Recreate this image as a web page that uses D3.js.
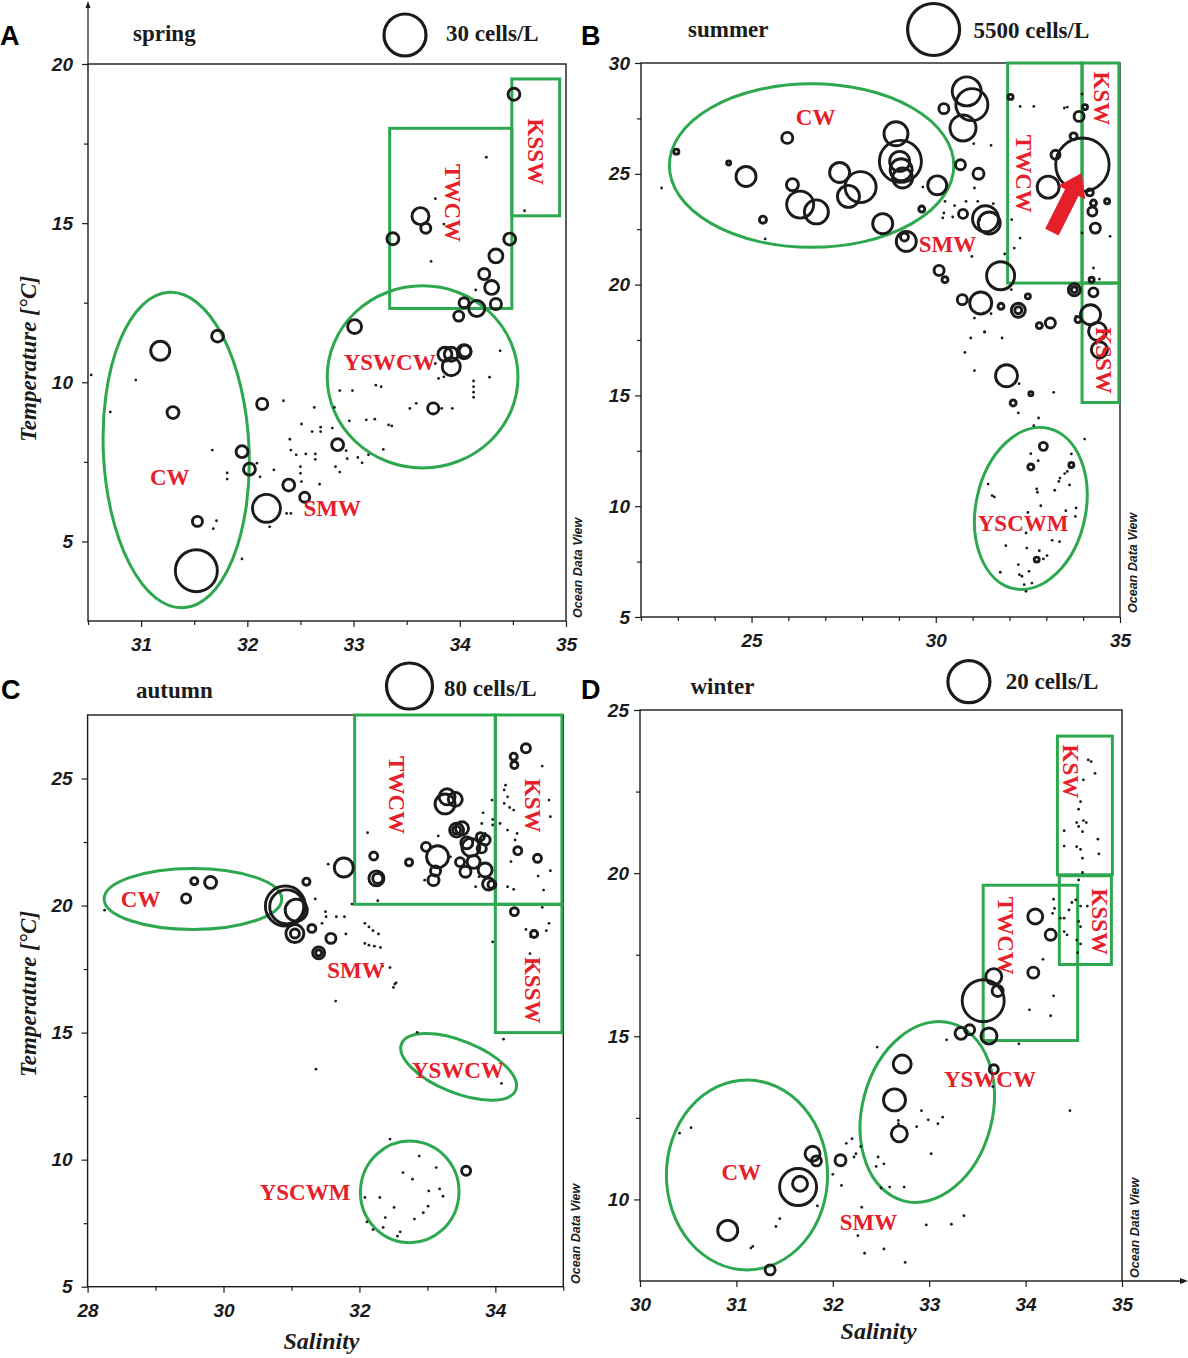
<!DOCTYPE html>
<html><head><meta charset="utf-8">
<script src="https://cdn.jsdelivr.net/npm/d3@7"></script>
<style>
body{margin:0;background:#fff;}
svg{display:block;}
</style></head>
<body>
<svg id="chart" width="1188" height="1358"></svg>
<script>
// ---------------- DATA ----------------
const seasons = ["spring", "summer", "autumn", "winter"];
const panelLetters = ["A", "B", "C", "D"];
const legendValues = [30, 5500, 80, 20];           // cells/L shown by legend circle
const xAxisTitle = "Salinity";
const yAxisTitle = "Temperature [°C]";

// tick values
const springXTicks = [31, 32, 33, 34, 35], springXMinor = [30.5, 31.5, 32.5, 33.5, 34.5];
const springYTicks = [5, 10, 15, 20], springYMinor = [7.5, 12.5, 17.5];
const summerXTicks = [25, 30, 35], summerXMinor = [22, 23, 24, 26, 27, 28, 29, 31, 32, 33, 34];
const summerYTicks = [5, 10, 15, 20, 25, 30], summerYMinor = [7.5, 12.5, 17.5, 22.5, 27.5];
const autumnXTicks = [28, 30, 32, 34], autumnXMinor = [29, 31, 33, 35];
const autumnYTicks = [5, 10, 15, 20, 25], autumnYMinor = [7.5, 12.5, 17.5, 22.5];
const winterXTicks = [30, 31, 32, 33, 34, 35], winterXMinor = [];
const winterYTicks = [10, 15, 20, 25], winterYMinor = [12.5, 17.5, 22.5];

// samples with abundance: [salinity, temperature, cells/L]
const springCircles = [[34.51,19.05,2.4],[33.63,15.22,4.9],[33.68,14.84,1.7],[33.37,14.51,2.4],[34.47,14.50,2.4],[34.34,13.97,3.3],[34.23,13.40,2.1],[34.30,12.98,3.3],[34.34,12.46,2.1],[34.04,12.50,1.7],[34.16,12.32,4.4],[33.99,12.08,1.7],[33.01,11.75,3.3],[31.18,10.99,6.1],[31.72,11.45,2.4],[31.30,9.05,2.4],[32.14,9.32,2.1],[31.95,7.82,2.4],[32.02,7.27,2.4],[32.39,6.77,2.4],[32.54,6.39,1.7],[32.18,6.04,13.3],[31.53,5.63,1.7],[31.52,4.08,30],[32.85,8.04,2.4],[33.86,10.88,3.3],[33.92,10.88,3.3],[33.92,10.49,5.5],[34.04,10.96,3.3],[34.05,10.98,2.4],[33.75,9.18,2.1]];
// samples without cells: [salinity, temperature]
const springDots = [[34.25,17.07],[33.77,15.77],[34.61,15.39],[33.73,13.80],[34.15,12.90],[33.85,14.97],[30.53,10.23],[30.95,10.07],[30.71,9.07],[31.67,7.87],[31.81,7.15],[31.81,6.96],[31.71,5.65],[31.68,5.40],[31.95,4.45],[32.21,5.46],[32.41,5.88],[32.37,5.88],[32.34,9.42],[32.25,7.25],[32.09,7.46],[32.12,7.03],[32.40,8.21],[32.41,7.87],[32.46,7.72],[32.51,8.69],[32.55,7.75],[32.50,7.35],[32.50,7.14],[32.51,6.88],[32.61,8.45],[32.63,9.21],[32.64,7.75],[32.64,7.58],[32.69,8.59],[32.69,8.45],[32.68,6.80],[32.80,8.56],[32.82,9.21],[32.83,7.35],[32.87,7.18],[32.87,9.74],[32.93,7.85],[32.94,7.60],[32.96,8.79],[32.99,9.74],[33.04,7.64],[33.08,7.47],[33.12,8.82],[33.14,7.72],[33.20,8.84],[33.21,9.91],[33.26,9.86],[33.28,7.89],[33.33,8.66],[33.36,8.63],[33.53,9.18],[33.59,9.34],[33.83,9.18],[33.93,9.18],[33.80,10.12],[33.85,10.17],[34.13,10.04],[34.13,9.86],[34.13,9.69],[34.13,9.53],[34.28,10.16],[34.38,10.99],[33.77,10.59]];

const summerCircles = [[30.84,28.72,1711],[30.98,28.12,2083],[30.74,27.07,1375],[30.22,27.94,203],[28.92,26.81,1172],[29.04,25.56,3588],[29.02,25.56,814],[29.06,25.18,984],[29.10,24.81,814],[25.97,26.62,246],[24.85,24.88,814],[26.11,24.51,293],[26.32,23.61,1483],[26.76,23.28,1172],[27.39,25.06,814],[27.63,23.98,984],[27.96,24.40,1955],[28.56,22.75,814],[30.04,24.48,734],[30.67,25.41,203],[31.16,25.00,246],[25.31,22.93,100],[29.20,21.95,814],[29.15,22.15,130],[30.74,23.19,165],[31.35,22.97,1375],[31.45,22.78,984],[33.05,24.40,984],[33.25,25.86,165],[33.98,25.41,5800],[31.76,20.40,1595],[30.09,20.64,203],[30.72,19.32,203],[31.22,19.17,984],[32.24,18.84,399],[32.24,18.84,100],[33.11,18.27,203],[32.81,18.15,73],[33.89,27.59,203],[33.74,26.69,100],[34.25,23.30,165],[34.33,22.55,203],[34.18,24.16,100],[33.76,19.77,293],[33.76,19.77,73],[34.28,19.65,165],[34.20,18.64,814],[34.39,17.89,659],[34.44,17.06,521],[31.92,15.89,984],[32.92,12.70,130],[34.28,23.68,73],[22.96,26.00,51],[24.38,25.49,33],[29.62,23.41,73],[32.03,28.47,51],[34.05,28.01,51],[34.65,23.76,51],[32.50,19.47,51],[31.77,19.02,73],[34.23,20.22,51],[33.86,18.42,73],[32.58,15.08,33],[33.68,11.86,51],[32.74,7.59,51],[32.58,11.77,73],[32.10,14.66,73],[30.25,20.22,73]];
const summerDots = [[22.56,24.36],[25.37,22.06],[29.65,24.40],[32.29,28.04],[32.66,28.04],[33.57,28.01],[33.97,28.60],[31.03,26.36],[31.50,26.28],[34.73,22.18],[30.25,23.76],[30.51,23.56],[30.82,23.76],[30.22,23.23],[30.46,23.05],[30.19,23.01],[30.98,21.27],[31.05,24.36],[31.14,23.76],[31.56,23.65],[31.19,22.93],[31.30,22.40],[32.06,22.93],[32.29,22.10],[32.13,21.65],[31.87,21.38],[32.05,19.77],[31.30,18.72],[31.50,18.69],[31.32,17.86],[33.97,22.33],[34.44,20.25],[34.28,20.75],[33.49,27.97],[31.05,18.49],[31.33,17.86],[30.95,17.59],[31.80,17.59],[30.79,16.94],[31.05,16.12],[32.26,15.53],[33.20,15.14],[32.24,14.21],[32.79,13.98],[32.66,13.63],[34.04,13.03],[32.58,12.37],[32.78,12.05],[33.68,12.36],[31.42,11.00],[31.53,10.48],[31.59,10.42],[32.74,10.78],[32.76,10.63],[33.23,10.72],[33.63,10.96],[33.37,11.27],[33.50,11.47],[33.57,11.57],[33.34,11.12],[33.81,9.92],[33.79,9.54],[32.50,9.72],[32.45,8.79],[32.85,10.02],[33.53,9.80],[31.90,8.22],[32.47,8.11],[32.81,7.99],[32.92,7.62],[33.02,7.77],[33.16,8.46],[33.36,8.40],[32.24,7.36],[31.75,7.02],[32.27,6.91],[32.34,6.84],[32.53,7.06],[32.61,6.53],[32.40,6.46],[32.45,6.16],[33.81,18.57]];

const autumnCircles = [[34.45,26.19,3.1],[34.27,25.86,1.9],[34.28,25.53,1.9],[33.26,24.00,15.1],[33.41,24.18,7.4],[33.29,24.28,9.7],[33.43,22.97,7.4],[33.43,22.97,2.4],[33.51,23.04,6.4],[33.15,21.92,18.3],[32.98,22.31,3.1],[33.12,21.36,3.8],[33.09,21.00,4.6],[32.73,21.70,1.9],[33.64,22.29,12.2],[33.58,22.47,5.4],[33.78,22.71,2.4],[33.85,22.58,3.8],[33.80,22.25,3.1],[33.68,21.72,6.4],[33.85,21.40,7.4],[33.56,21.33,4.6],[33.48,21.71,3.1],[33.90,20.85,5.4],[33.95,20.83,2.4],[32.21,21.95,2.4],[32.25,21.07,8.5],[32.27,21.07,3.8],[31.77,21.50,13.6],[31.22,20.94,1.9],[30.91,19.98,60.5],[30.93,19.95,43.7],[31.07,19.82,18.3],[31.05,18.90,12.2],[31.05,18.90,3.1],[31.30,19.10,2.4],[31.58,18.71,3.8],[31.40,18.14,5.4],[31.40,18.14,1.4],[29.57,20.96,1.9],[29.81,20.91,5.4],[29.45,20.28,3.1],[34.62,21.86,2.4],[34.33,22.16,2.4],[34.28,19.76,2.4],[34.57,18.88,1.9],[33.57,9.56,3.1]];
const autumnDots = [[28.25,19.82],[31.54,21.63],[32.12,22.87],[32.96,21.00],[33.82,23.65],[33.80,23.23],[33.95,24.15],[33.96,23.17],[34.15,24.74],[34.13,24.55],[34.18,24.28],[34.13,24.02],[34.21,23.86],[34.27,23.76],[34.07,23.23],[34.18,22.97],[34.32,22.84],[34.29,22.05],[34.23,21.73],[34.29,22.58],[34.18,20.74],[34.27,20.64],[34.63,21.16],[34.69,25.49],[34.79,24.15],[34.81,23.50],[34.81,21.37],[34.71,20.61],[34.69,19.93],[34.79,19.30],[34.75,19.01],[34.45,19.06],[34.52,18.77],[34.51,18.11],[34.55,17.59],[33.96,18.57],[33.34,21.92],[33.16,22.74],[31.89,20.06],[32.27,20.19],[31.35,20.26],[31.50,19.76],[31.51,19.56],[31.45,19.30],[31.66,19.56],[31.78,19.56],[31.80,18.88],[32.08,19.30],[32.14,19.16],[32.20,19.01],[32.28,18.88],[32.08,18.51],[32.14,18.44],[32.22,18.40],[32.31,18.35],[32.34,17.62],[32.45,17.56],[32.54,16.96],[33.96,23.39],[33.85,22.84],[33.76,21.13],[33.71,20.74],[32.52,16.91],[32.50,16.78],[31.65,16.24],[32.85,15.01],[31.36,13.56],[34.12,14.74],[34.09,13.00],[32.45,10.81],[32.88,10.14],[33.13,9.69],[32.64,9.49],[32.78,9.23],[33.02,8.77],[33.18,8.85],[33.23,8.56],[32.08,8.51],[32.30,8.51],[32.51,8.12],[33.01,8.17],[32.94,7.91],[32.38,7.72],[32.81,7.66],[32.11,7.55],[32.20,7.25],[32.35,7.33],[32.60,7.16],[32.56,6.99]];

const winterCircles = [[34.10,18.67,2.55],[34.26,18.11,1.37],[34.08,16.95,1.37],[33.67,16.83,2.90],[33.71,16.39,1.37],[33.56,16.09,20],[33.62,15.01,2.90],[33.33,15.09,1.63],[33.42,15.20,1.13],[33.67,13.99,0.92],[32.72,14.15,3.67],[32.64,13.05,5.49],[32.69,12.01,2.90],[31.79,11.40,2.55],[31.83,11.18,1.13],[32.08,11.20,1.37],[31.64,10.38,15.5],[31.66,10.48,2.55],[30.91,9.05,4.54],[31.35,7.84,1.13]];
const winterDots = [[34.65,23.47],[34.68,23.42],[34.72,23.06],[34.60,22.86],[34.57,22.19],[34.55,21.96],[34.60,21.61],[34.53,21.55],[34.63,21.55],[34.55,21.43],[34.59,21.27],[34.40,21.30],[34.40,20.83],[34.53,20.81],[34.57,20.73],[34.59,20.46],[34.75,21.04],[34.76,20.59],[34.59,20.02],[34.55,19.79],[34.29,19.20],[34.52,19.18],[34.48,19.10],[34.57,18.99],[34.64,18.99],[34.30,18.92],[34.28,18.77],[34.45,18.87],[34.40,18.62],[34.36,18.62],[34.55,18.52],[34.57,18.36],[34.40,18.21],[34.43,18.11],[34.53,17.95],[34.57,17.83],[34.54,17.56],[34.18,17.36],[34.29,16.24],[34.04,15.81],[34.26,15.63],[33.93,14.77],[33.18,14.89],[32.46,14.67],[33.66,13.46],[34.46,12.72],[32.92,12.72],[32.99,12.44],[33.09,12.32],[33.14,12.52],[32.87,12.23],[33.02,11.40],[32.20,11.86],[32.14,11.72],[32.29,11.62],[32.24,11.40],[32.22,11.30],[32.47,11.30],[32.45,11.01],[32.53,11.09],[32.00,10.77],[32.09,10.43],[31.84,9.80],[32.59,10.38],[32.50,10.35],[32.74,10.38],[32.30,9.76],[31.45,9.41],[31.41,9.17],[31.17,8.56],[31.15,8.51],[32.26,8.89],[32.53,8.48],[32.33,8.35],[32.75,8.07],[32.97,9.22],[33.23,9.24],[33.36,9.50],[30.41,12.03],[30.53,12.20],[32.68,12.42],[32.68,12.32]];

// water-mass outlines: ellipses [salinity, temperature, half-width (salinity), half-height (°C), tilt deg]
const springEllipses = [[31.33,7.87,0.686,4.96,-2.5],[33.65,10.17,0.898,2.86,0]];
const summerEllipses = [[26.63,25.37,3.86,3.69,0],[32.58,9.90,1.49,3.70,12]];
const autumnEllipses = [[29.55,20.26,1.307,1.20,0],[33.46,13.65,0.906,1.02,22],[32.74,8.73,0.725,2.0,4]];
const winterEllipses = [[31.11,10.75,0.836,2.91,0],[32.98,12.68,0.674,2.82,15]];
// boxes [salinity min, salinity max, temperature min, temperature max]
const springBoxes = [[33.34,34.49,12.32,17.98],[34.49,34.94,15.23,19.53]];
const summerBoxes = [[31.95,33.97,20.07,30],[33.97,34.97,20.07,30],[33.97,34.97,14.68,20.07]];
const autumnBoxes = [[31.93,34.0,20.05,27.5],[34.0,34.98,20.05,27.5],[34.0,34.98,15.0,20.05]];
const winterBoxes = [[33.56,34.54,14.87,19.63],[34.33,34.90,19.95,24.2],[34.35,34.89,17.2,19.92]];
// labels [text, salinity, temperature, rotation]
const springLabels = [["KSSW",34.71,17.24,90],["TWCW",33.93,15.63,90],["YSWCW",33.34,10.61,0],["CW",31.27,7.02,0],["SMW",32.80,6.05,0]];
const summerLabels = [["CW",26.74,27.56,0],["SMW",30.32,21.83,0],["TWCW",32.37,25.0,90],["KSW",34.49,28.40,90],["KSSW",34.54,16.57,90],["YSCWM",32.37,9.21,0]];
const autumnLabels = [["CW",28.78,20.22,0],["SMW",31.95,17.46,0],["TWCW",32.54,24.35,90],["KSW",34.55,23.93,90],["KSSW",34.55,16.67,90],["YSWCW",33.45,13.50,0],["YSCWM",31.20,8.69,0]];
const winterLabels = [["KSW",34.47,23.12,90],["KSSW",34.77,18.51,90],["TWCW",33.79,18.08,90],["YSWCW",33.63,13.69,0],["CW",31.05,10.82,0],["SMW",32.37,9.29,0]];
// highlighted sample arrow (summer): [tail salinity, tail temp, tip salinity, tip temp]
const summerArrow = [33.15, 22.37, 33.96, 25.04];

// ---------------- LAYOUT ----------------
const GREEN = "#2ea84f", RED = "#e5202a", INK = "#1b1b1b";
const panels = [
  {l:88, r:566, t:64, b:621, xDomain:[30.5,35], yDomain:[2.5,20], xT:springXTicks, xM:springXMinor, yT:springYTicks, yM:springYMinor,
   circles:springCircles, dots:springDots, ell:springEllipses, box:springBoxes, lab:springLabels, legendR:21,
   letter:[0,45], season:[133,41], legC:[405,35], legT:[446,41], ylab:[28,359], xlab:null, odv:[578,618], yPad:9, arrowY:true},
  {l:641, r:1120, t:63, b:617, xDomain:[22,35], yDomain:[5,30], xT:summerXTicks, xM:summerXMinor, yT:summerYTicks, yM:summerYMinor,
   circles:summerCircles, dots:summerDots, ell:summerEllipses, box:summerBoxes, lab:summerLabels, legendR:26,
   letter:[581,45], season:[688,37], legC:[933.6,29.5], legT:[973.6,38], ylab:null, xlab:null, odv:[1132.5,613], yPad:5, arrow:summerArrow},
  {l:87.6, r:563.3, t:715, b:1286.7, xDomain:[28,35], yDomain:[5,27.5], xT:autumnXTicks, xM:autumnXMinor, yT:autumnYTicks, yM:autumnYMinor,
   circles:autumnCircles, dots:autumnDots, ell:autumnEllipses, box:autumnBoxes, lab:autumnLabels, legendR:23,
   letter:[1,699], season:[136,698], legC:[409.5,686], legT:[444,696], ylab:[28,994], xlab:[321.5,1349], odv:[576,1284], yPad:9},
  {l:640, r:1122, t:710, b:1281, xDomain:[30,35], yDomain:[7.5,25], xT:winterXTicks, xM:winterXMinor, yT:winterYTicks, yM:winterYMinor,
   circles:winterCircles, dots:winterDots, ell:winterEllipses, box:winterBoxes, lab:winterLabels, legendR:21,
   letter:[581,699], season:[690.5,694], legC:[968.9,681.7], legT:[1005.7,689], ylab:null, xlab:[878.6,1339], odv:[1134.5,1278], yPad:5, arrowX:true}
];

const svg = d3.select("#chart");
svg.append("rect").attr("width",1188).attr("height",1358).attr("fill","#fff");

panels.forEach((p, i) => {
  const g = svg.append("g");
  const x = d3.scaleLinear().domain(p.xDomain).range([p.l, p.r]);
  const y = d3.scaleLinear().domain(p.yDomain).range([p.b, p.t]);
  const rs = d3.scaleSqrt().domain([0, legendValues[i]]).range([0, p.legendR]);
  const kx = Math.abs(x(1) - x(0)), ky = Math.abs(y(1) - y(0));

  // water mass outlines
  g.selectAll(".ell").data(p.ell).join("ellipse")
    .attr("cx", d => x(d[0])).attr("cy", d => y(d[1]))
    .attr("rx", d => d[2] * kx).attr("ry", d => d[3] * ky)
    .attr("transform", d => `rotate(${d[4]},${x(d[0])},${y(d[1])})`)
    .attr("fill", "none").attr("stroke", GREEN).attr("stroke-width", 3);

  // frame
  g.append("rect").attr("x", p.l).attr("y", p.t).attr("width", p.r - p.l).attr("height", p.b - p.t)
    .attr("fill", "none").attr("stroke", INK).attr("stroke-width", 1.4);
  // green boxes (over the frame where they share its edge)
  g.selectAll(".box").data(p.box).join("rect")
    .attr("x", d => x(d[0])).attr("y", d => y(d[3]))
    .attr("width", d => x(d[1]) - x(d[0])).attr("height", d => y(d[2]) - y(d[3]))
    .attr("fill", "none").attr("stroke", GREEN).attr("stroke-width", 3);

  // axes
  const tickFont = g => g.selectAll("text").attr("font-family", "Liberation Sans, Arial, sans-serif")
      .attr("font-weight", "bold").attr("font-style", "italic").attr("font-size", 19).attr("fill", INK);
  const yAx = g.append("g").attr("transform", `translate(${p.l},0)`)
    .call(d3.axisLeft(y).tickValues(p.yT).tickSize(6).tickPadding(p.yPad).tickFormat(d3.format("d")));
  yAx.call(tickFont);
  const xAx = g.append("g").attr("transform", `translate(0,${p.b})`)
    .call(d3.axisBottom(x).tickValues(p.xT).tickSize(6).tickPadding(11).tickFormat(d3.format("d")));
  xAx.call(tickFont);
  const yMin = g.append("g").attr("transform", `translate(${p.l},0)`)
    .call(d3.axisLeft(y).tickValues(p.yM).tickSize(4).tickFormat(""));
  const xMin = g.append("g").attr("transform", `translate(0,${p.b})`)
    .call(d3.axisBottom(x).tickValues(p.xM).tickSize(4).tickFormat(""));
  [yAx, xAx, yMin, xMin].forEach(a => {
    a.select(".domain").remove();
    a.selectAll("line").attr("stroke", INK).attr("stroke-width", 1.2);
  });

  if (p.arrowY) {
    g.append("line").attr("x1", p.l).attr("x2", p.l).attr("y1", p.t).attr("y2", 6).attr("stroke", INK).attr("stroke-width", 1.2);
    g.append("path").attr("d", `M${p.l},1 L${p.l-2.5},8 L${p.l+2.5},8 Z`).attr("fill", INK);
  }
  if (p.arrowX) {
    g.append("line").attr("x1", p.r).attr("x2", 1182).attr("y1", p.b).attr("y2", p.b).attr("stroke", INK).attr("stroke-width", 1.4);
    g.append("path").attr("d", `M1188,${p.b} L1180,${p.b-3} L1180,${p.b+3} Z`).attr("fill", INK);
  }

  // points
  g.selectAll(".dot").data(p.dots).join("circle")
    .attr("cx", d => x(d[0])).attr("cy", d => y(d[1])).attr("r", 1.4).attr("fill", INK);
  g.selectAll(".cir").data(p.circles.slice().sort((a, b) => b[2] - a[2])).join("circle")
    .attr("cx", d => x(d[0])).attr("cy", d => y(d[1])).attr("r", d => rs(d[2]))
    .attr("fill", "none").attr("stroke", INK).attr("stroke-width", 2.9);

  // highlight arrow
  if (p.arrow) {
    const x0 = x(p.arrow[0]), y0 = y(p.arrow[1]), x1 = x(p.arrow[2]), y1 = y(p.arrow[3]);
    const L = Math.hypot(x1 - x0, y1 - y0), ux = (x1 - x0) / L, uy = (y1 - y0) / L, px = -uy, py = ux;
    const sw = 15, hw = 30, hl = 22, bx = x1 - ux * hl, by = y1 - uy * hl;
    const pts = [[x0 + px*sw/2, y0 + py*sw/2], [bx + px*sw/2, by + py*sw/2], [bx + px*hw/2, by + py*hw/2], [x1, y1],
                 [bx - px*hw/2, by - py*hw/2], [bx - px*sw/2, by - py*sw/2], [x0 - px*sw/2, y0 - py*sw/2]];
    g.append("path").attr("d", "M" + pts.map(q => q.join(",")).join("L") + "Z").attr("fill", RED);
  }

  // water mass labels
  g.selectAll(".lab").data(p.lab).join("text")
    .attr("transform", d => `translate(${x(d[1])},${y(d[2])}) rotate(${d[3]})`)
    .attr("text-anchor", "middle").attr("dominant-baseline", "central")
    .attr("font-family", "Liberation Serif, Times New Roman, serif").attr("font-weight", "bold")
    .attr("font-size", 23).attr("fill", RED).text(d => d[0]);

  // panel letter, season, legend
  g.append("text").attr("x", p.letter[0]).attr("y", p.letter[1]).text(panelLetters[i])
    .attr("font-family", "Liberation Sans, Arial, sans-serif").attr("font-weight", "bold").attr("font-size", 27).attr("fill", "#000");
  g.append("text").attr("x", p.season[0]).attr("y", p.season[1]).text(seasons[i])
    .attr("font-family", "Liberation Serif, Times New Roman, serif").attr("font-weight", "bold").attr("font-size", 23).attr("fill", INK);
  g.append("circle").attr("cx", p.legC[0]).attr("cy", p.legC[1]).attr("r", rs(legendValues[i]))
    .attr("fill", "none").attr("stroke", INK).attr("stroke-width", 3.2);
  g.append("text").attr("x", p.legT[0]).attr("y", p.legT[1]).text(legendValues[i] + " cells/L")
    .attr("font-family", "Liberation Serif, Times New Roman, serif").attr("font-weight", "bold").attr("font-size", 23).attr("fill", INK);

  if (p.ylab) {
    g.append("text").attr("transform", `translate(${p.ylab[0]},${p.ylab[1]}) rotate(-90)`)
      .attr("text-anchor", "middle").attr("dominant-baseline", "central").text(yAxisTitle)
      .attr("font-family", "Liberation Serif, Times New Roman, serif").attr("font-weight", "bold").attr("font-style", "italic")
      .attr("font-size", 23).attr("fill", INK);
  }
  if (p.xlab) {
    g.append("text").attr("x", p.xlab[0]).attr("y", p.xlab[1]).attr("text-anchor", "middle").text(xAxisTitle)
      .attr("font-family", "Liberation Serif, Times New Roman, serif").attr("font-weight", "bold").attr("font-style", "italic")
      .attr("font-size", 24).attr("fill", INK);
  }
  g.append("text").attr("transform", `translate(${p.odv[0]},${p.odv[1]}) rotate(-90)`)
    .attr("dominant-baseline", "central").text("Ocean Data View")
    .attr("font-family", "Liberation Sans, Arial, sans-serif").attr("font-weight", "bold").attr("font-style", "italic")
    .attr("font-size", 12.5).attr("fill", INK);
});
</script>
</body></html>
